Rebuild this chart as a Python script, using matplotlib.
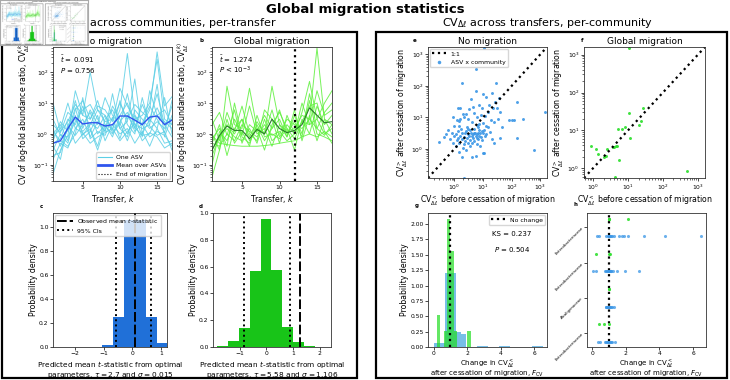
import numpy as np
import matplotlib
matplotlib.use('Agg')
import matplotlib.pyplot as plt
from matplotlib.patches import Rectangle
from matplotlib.lines import Line2D

# ---------------- data ----------------
transfers = list(range(1, 18))

a_lines = [
    [10, 1.2, 2.5, 9, 4, 3, 12, 2, 1.5, 6, 400, 4, 2, 6, 450, 8, 16],
    [0.05, 0.3, 0.9, 25, 4, 100, 6, 2.5, 3, 10, 3, 9, 5, 3, 20, 2, 3],
    [1.0, 2.0, 0.6, 6, 12, 3, 8, 6, 2.5, 30, 8, 3, 4, 10, 260, 3, 2],
    [0.15, 0.5, 0.35, 1.5, 1.1, 0.5, 0.8, 1.1, 1.5, 0.6, 1.2, 2.2, 0.6, 1.1, 0.8, 0.35, 0.5],
    [2.0, 1.1, 5, 3, 1.2, 2.2, 1.5, 4, 1.1, 2.5, 5, 1.2, 2.2, 8, 3, 1.1, 12],
    [0.5, 0.7, 3, 2, 8, 1.5, 0.4, 3, 6, 1.5, 2.5, 60, 1, 3, 1.5, 15, 1],
    [1.5, 0.4, 1.5, 12, 1.5, 6, 2, 15, 4, 2, 20, 1.5, 9, 2.5, 7, 2, 0.8],
    [0.3, 1, 0.5, 4, 0.7, 1.2, 4, 0.6, 2, 1, 1.5, 0.5, 1.2, 0.4, 1.5, 0.5, 0.6],
    [0.8, 1.5, 10, 1.5, 3, 0.8, 2.5, 1.2, 8, 3, 1, 4, 0.8, 25, 4, 6, 2],
    [0.2, 0.25, 1.8, 0.9, 2, 5, 1, 2, 0.8, 4, 10, 2, 1.5, 2, 40, 0.8, 4],
    [3, 0.9, 0.8, 2.5, 6, 9, 3, 1.2, 20, 1.5, 0.8, 6, 3, 1.5, 2.5, 1.5, 8],
    [0.6, 2.5, 1.2, 7, 0.9, 2, 6, 4, 1.3, 12, 2, 1, 15, 1.8, 0.9, 1.2, 0.3],
    [1.2, 0.6, 0.4, 1, 15, 0.7, 1.2, 0.9, 3.5, 0.7, 4, 1.6, 0.9, 1, 4, 2.5, 1.5],
    [0.4, 0.15, 2.2, 0.5, 1, 1.4, 0.3, 1.8, 1, 2.2, 0.6, 2.8, 2, 0.8, 1.2, 0.9, 0.4],
]
a_mean = [0.5, 0.6, 1.5, 3.5, 2.1, 2.3, 2.3, 1.8, 2.0, 3.8, 3.8, 2.8, 2.0, 3.5, 3.8, 2.0, 2.8]

b_lines = [
    [0.04, 0.3, 35, 2, 1.5, 30, 1.5, 1, 35, 2, 1.2, 1.5, 4, 3, 600, 3, 2],
    [0.3, 0.8, 2, 1, 3, 0.8, 2.5, 1, 6, 0.8, 2, 1, 5, 50, 3, 10, 25],
    [0.9, 0.5, 0.45, 0.42, 0.4, 0.4, 0.4, 0.42, 0.45, 0.5, 0.55, 0.6, 0.8, 1, 0.8, 1.2, 0.5],
    [2, 5, 0.9, 6, 0.5, 2, 1.2, 4, 1.5, 3, 0.8, 4, 1, 20, 1.5, 0.9, 2],
    [0.5, 2, 0.2, 1.5, 3, 0.6, 1.5, 0.3, 2, 5, 1.5, 0.7, 2.5, 8, 10, 1.2, 0.8],
    [0.2, 0.8, 1.5, 0.8, 0.6, 1.5, 0.5, 3, 0.6, 1, 3, 2, 1.5, 3, 1.5, 5, 10],
    [1, 0.3, 3, 0.5, 1.2, 0.4, 4, 0.8, 1, 0.7, 1.5, 0.3, 3, 1, 8, 2, 4],
    [0.1, 1.2, 0.6, 3, 0.9, 8, 1, 1.5, 0.4, 2, 0.8, 6, 0.6, 4, 0.6, 3, 1],
    [3, 0.6, 5, 1.2, 8, 1, 0.6, 6, 3, 0.5, 4, 1, 10, 2, 3, 1, 1.5],
    [0.7, 1.5, 0.4, 10, 0.8, 0.5, 2, 0.6, 1.5, 6, 1, 2.5, 0.8, 12, 1, 0.8, 0.6],
    [0.5, 0.4, 1, 0.6, 2, 1.2, 0.8, 2, 0.9, 1.2, 0.6, 1, 2.5, 2, 25, 4, 6],
]
b_mean = [0.3, 0.9, 1.8, 1.3, 1.3, 0.7, 1.4, 1.0, 3.0, 1.5, 1.1, 1.3, 2.0, 7.0, 4.0, 2.3, 2.5]
end_of_migration = 12

a_tbar, a_P = "0.091", "0.756"
b_tbar = "1.274"

c_edges = [-1.06, -0.68, -0.30, 0.085, 0.465, 0.845, 1.225]
c_heights = [0.02, 0.25, 1.06, 1.06, 0.25, 0.035]
c_obs, c_ci = 0.091, [-0.57, 0.66]

d_edges = [-1.84, -1.435, -1.03, -0.625, -0.22, 0.185, 0.59, 0.995, 1.40, 1.805, 2.21]
d_heights = [0.01, 0.045, 0.145, 0.57, 0.955, 0.575, 0.15, 0.035, 0.01, 0.003]
d_obs, d_ci = 1.274, [-0.85, 0.875]

e_x = [11, 5.5, 1.8, 29, 5.6, 20, 10, 13, 35, 3.8, 27, 150, 1.3, 1.6, 7, 4.5, 9, 22, 30, 3.2,
       15, 1500, 40, 5, 2, 8.5, 12, 0.9, 2.2, 6, 3, 250, 120, 100, 80, 1.2, 1.5, 4, 19, 33,
       25, 10, 1, 1.4, 2.8, 6.5, 15, 45, 0.6, 1.7, 2.5, 3.5, 5, 7.5, 9, 11, 18, 0.8, 1.1, 1.9,
       2.3, 3, 3.8, 4.3, 4.8, 5.3, 6, 6.8, 8, 10, 13, 0.45, 1, 1.3, 1.6, 2.1, 2.7, 3.3, 4, 4.6,
       5.5, 6.2, 7, 8.5, 12, 38, 150, 1.2, 1.8, 2.4, 3.6, 5, 6.5, 9.5, 20, 0.9, 1.5, 2.2, 3, 4.2,
       6, 25, 1.1, 2, 3.5, 8, 2.6, 600, 1.5, 10, 10.5, 1.8, 4, 5.5, 2.2, 0.3, 0.5, 0.7, 1.3, 2.9,
       6, 7.5, 13, 1.6, 2.6, 16]
e_y = [1600, 330, 120, 120, 70, 60, 55, 45, 42, 38, 30, 30, 20, 20, 25, 22, 20, 20, 20, 18,
       15, 15, 15, 14, 13, 12, 11, 10, 10, 10, 9, 9, 8, 8.5, 8, 8, 7.5, 7, 8, 9,
       7, 6.5, 5.5, 5.5, 5, 5, 4.8, 5, 4, 4.2, 3.8, 4, 4.2, 3.9, 3.6, 4, 3.5, 3.2, 3, 3.3,
       3.1, 3, 3.2, 2.9, 3.3, 3.1, 3, 3.2, 3.3, 3.2, 3, 2.4, 2.5, 2.2, 2.6, 2.4, 2.3, 2.6, 2.5, 2.2,
       2.5, 2.3, 2.6, 2.4, 2.5, 2.3, 2.3, 1.9, 2, 1.8, 1.9, 1.8, 2, 1.9, 2, 1.6, 1.5, 1.4, 1.5, 1.6,
       1.4, 1.6, 1.2, 1.1, 1.2, 1.2, 0.9, 0.9, 0.8, 0.75, 0.72, 0.55, 0.55, 0.6, 0.12, 1.7, 2.9, 2, 3.6, 4.4,
       5.8, 6, 5.5, 9, 13, 25]
e_lim = [0.12, 1700]

f_x = [11, 27, 11, 11.5, 23, 21, 8.4, 6.8, 5.1, 4.1, 3.7, 4.5, 5.0, 0.9, 1.2, 1.4, 2.1, 2.5, 5.7, 4.2, 500, 2.4]
f_y = [1520, 40, 29, 6.4, 18, 14, 12, 10.8, 10.6, 3.7, 3.6, 3.8, 3.9, 3.9, 3.2, 2.4, 2.0, 3.2, 1.65, 0.58, 0.85, 2.1]
f_lim = [0.55, 1600]

g_blue_edges = list(np.round(np.arange(0, 6.51, 0.325), 3))
g_blue_heights = [0.07, 0.07, 1.2, 1.2, 0.25, 0.21, 0, 0, 0.02, 0.02, 0, 0, 0.01, 0.01, 0, 0, 0, 0, 0.01, 0.01]
g_green_edges = [0.2, 0.4, 0.6, 0.8, 1.0, 1.2, 1.4, 1.6, 1.8, 2.0, 2.2]
g_green_heights = [0.52, 0, 0.26, 2.08, 1.56, 0.26, 0, 0, 0, 0.26]
g_KS, g_P = "0.237", "0.504"

h_families = ["Enterobacteriaceae", "Enterobacteriaceae", "Alcaligenaceae", "Enterobacteriaceae"]
h_green = [[1.0, 1.0, 2.15, 1.02],
           [0.25, 1.0, 1.05],
           [1.0, 1.02],
           [0.4, 0.7, 1.0]]
h_blue = [[0.3, 0.4, 0.85, 0.95, 1.0, 1.0, 1.05, 1.1, 1.2, 1.3, 1.6, 1.75, 1.9, 2.15, 3.1, 4.35, 6.5],
          [0.05, 0.25, 0.75, 0.85, 0.9, 0.95, 1.0, 1.0, 1.05, 1.1, 1.15, 1.25, 1.5, 1.95, 2.8],
          [0.8, 0.85, 0.9, 0.95, 1.0, 1.0, 1.05, 1.1, 1.2, 1.3],
          [0.35, 0.5, 0.75, 0.85, 0.9, 0.95, 1.0, 1.05, 1.1, 1.2, 1.35]]

# ---------------- style ----------------
W, H = 730, 380
plt.rcParams.update({
    'font.family': ['DejaVu Sans'],
    'font.size': 5,
    'axes.linewidth': 0.6,
    'axes.edgecolor': '#333333',
    'xtick.major.size': 2, 'ytick.major.size': 2,
    'xtick.minor.size': 1.2, 'ytick.minor.size': 1.2,
    'xtick.major.width': 0.5, 'ytick.major.width': 0.5,
    'xtick.minor.width': 0.4, 'ytick.minor.width': 0.4,
    'xtick.major.pad': 1.2, 'ytick.major.pad': 1.2,
    'xtick.labelsize': 4.3, 'ytick.labelsize': 4.3,
    'axes.labelsize': 5.6, 'axes.titlesize': 6.5,
    'axes.labelpad': 1.5, 'axes.titlepad': 2.5,
    'legend.fontsize': 4.4,
    'mathtext.fontset': 'dejavusans',
})

CYAN = '#5ccfe6'
BLUE_MEAN = '#2f55ee'
LGREEN = '#5ef03c'
DGREEN = '#2a7a2a'
HBLUE = '#2070d8'
HGREEN = '#18c418'
SBLUE = '#3a96e6'
SGREEN = '#33e033'
XL2 = 5.3  # two-line x labels

fig = plt.figure(figsize=(W / 100, H / 100), dpi=100)


def px_axes(l, t, r, b):
    return fig.add_axes([l / W, 1 - b / H, (r - l) / W, (b - t) / H])


def letter(x, y, s):
    fig.text(x / W, 1 - y / H, s, fontsize=4, fontweight='bold', ha='left', va='center')


def two_line_label(l, r, y1, s1, y2, s2, size):
    fig.text((l + r) / 2 / W, 1 - y1 / H, s1, fontsize=size, ha='center', va='baseline')
    fig.text((l + r) / 2 / W, 1 - y2 / H, s2, fontsize=size, ha='center', va='baseline')


cv_k = r'CV$^{(k)}_{\Delta\ell}$'
cv_lt = r'CV$^{<}_{\Delta\ell}$'
cv_gt = r'CV$^{>}_{\Delta\ell}$'

# ---------------- panel a ----------------
ax = px_axes(53, 47, 172, 181)
for vals in a_lines:
    ax.plot(transfers, vals, color=CYAN, lw=0.7, alpha=0.85)
ax.plot(transfers, a_mean, color=BLUE_MEAN, lw=1.0)
ax.set_yscale('log')
ax.set_ylim(0.03, 650)
ax.set_xlim(1, 17)
ax.set_xticks([5, 10, 15])
ax.set_xlabel(r'Transfer, $k$')
ax.set_ylabel('CV of log-fold abundance ratio, ' + cv_k, labelpad=1)
ax.set_title('No migration')
ax.text(0.06, 0.91, r'$\bar{t}$ = ' + a_tbar, transform=ax.transAxes, fontsize=5, va='center')
ax.text(0.06, 0.825, r'$P$ = ' + a_P, transform=ax.transAxes, fontsize=5, va='center')
handles = [Line2D([], [], color=CYAN, lw=0.8),
           Line2D([], [], color=BLUE_MEAN, lw=2),
           Line2D([], [], color='k', lw=0.8, ls=':')]
ax.legend(handles, ['One ASV', 'Mean over ASVs', 'End of migration'], loc='lower right',
          handlelength=2.2, borderpad=0.4, labelspacing=0.5, framealpha=0.8, borderaxespad=0.3)
letter(40, 40, 'a')

# ---------------- panel b ----------------
ax = px_axes(212, 47, 332, 181)
for vals in b_lines:
    ax.plot(transfers, vals, color=LGREEN, lw=0.7, alpha=0.85)
ax.plot(transfers, b_mean, color=DGREEN, lw=0.8)
ax.axvline(end_of_migration, color='k', ls=':', lw=1.6)
ax.set_yscale('log')
ax.set_ylim(0.03, 650)
ax.set_xlim(1, 17)
ax.set_xticks([5, 10, 15])
ax.set_xlabel(r'Transfer, $k$')
ax.set_ylabel('CV of log-fold abundance ratio, ' + cv_k, labelpad=1)
ax.set_title('Global migration')
ax.text(0.06, 0.91, r'$\bar{t}$ = ' + b_tbar, transform=ax.transAxes, fontsize=5, va='center')
ax.text(0.06, 0.825, r'$P$ < $10^{-3}$', transform=ax.transAxes, fontsize=5, va='center')
letter(199, 40, 'b')

# ---------------- panel c ----------------
ax = px_axes(53, 213, 167, 347)
ax.stairs(c_heights, c_edges, fill=True, color=HBLUE)
ax.axvline(c_obs, color='k', ls=(0, (5, 1.5)), lw=1.4)
for v in c_ci:
    ax.axvline(v, color='k', ls=':', lw=1.4)
ax.set_xlim(-2.75, 1.2)
ax.set_ylim(0, 1.12)
ax.set_yticks(np.arange(0, 1.01, 0.2))
ax.set_xticks([-2, -1, 0, 1])
ax.set_ylabel('Probability density', labelpad=1)
ax.set_xlabel('Predicted mean $t$-statistic from optimal\nparameters, $\\tau = 2.7$ and $\\sigma = 0.015$',
              fontsize=XL2, linespacing=1.05)
handles = [Line2D([], [], color='k', lw=1.4, ls=(0, (5, 1.5))),
           Line2D([], [], color='k', lw=1.4, ls=':')]
ax.legend(handles, ['Observed mean $t$-statistic', '95% CIs'], loc='upper left',
          handlelength=2.5, borderpad=0.4, labelspacing=0.5, framealpha=0.8, borderaxespad=0.3)
letter(40, 206, 'c')

# ---------------- panel d ----------------
ax = px_axes(213, 213, 331, 347)
ax.stairs(d_heights, d_edges, fill=True, color=HGREEN)
ax.axvline(d_obs, color='k', ls=(0, (5, 1.5)), lw=1.4)
for v in d_ci:
    ax.axvline(v, color='k', ls=':', lw=1.4)
ax.set_xlim(-2.0, 2.42)
ax.set_ylim(0, 1.0)
ax.set_yticks(np.arange(0, 1.01, 0.2))
ax.set_xticks([-1, 0, 1, 2])
ax.set_ylabel('Probability density', labelpad=1)
ax.set_xlabel('Predicted mean $t$-statistic from optimal\nparameters, $\\tau = 5.58$ and $\\sigma = 1.106$',
              fontsize=XL2, linespacing=1.05)
letter(199, 206, 'd')

# ---------------- panel e ----------------
ax = px_axes(428, 47, 547, 178)
ax.plot(e_lim, e_lim, color='k', ls=':', lw=1.6, label='1:1')
ax.scatter(e_x, e_y, s=4.5, color=SBLUE, alpha=0.9, lw=0, label='ASV x community')
ax.set_xscale('log')
ax.set_yscale('log')
ax.set_xlim(*e_lim)
ax.set_ylim(*e_lim)
ax.set_title('No migration')
ax.set_xlabel(cv_lt + ' before cessation of migration')
ax.set_ylabel(cv_gt + ' after cessation of migration', labelpad=1)
ax.legend(loc='upper left', handlelength=2.2, borderpad=0.4, labelspacing=0.5,
          framealpha=0.8, borderaxespad=0.3, markerscale=1.2)
letter(413, 40, 'e')

# ---------------- panel f ----------------
ax = px_axes(584, 47, 705, 178)
ax.plot(f_lim, f_lim, color='k', ls=':', lw=1.6)
ax.scatter(f_x, f_y, s=4.5, color=SGREEN, alpha=0.95, lw=0)
ax.set_xscale('log')
ax.set_yscale('log')
ax.set_xlim(*f_lim)
ax.set_ylim(*f_lim)
ax.set_title('Global migration')
ax.set_xlabel(cv_lt + ' before cessation of migration')
ax.set_ylabel(cv_gt + ' after cessation of migration', labelpad=1)
letter(581, 40, 'f')

# ---------------- panel g ----------------
ax = px_axes(428, 213, 547, 347)
ax.stairs(g_blue_heights, g_blue_edges, fill=True, color='#4aa8e0', alpha=0.75)
ax.stairs(g_green_heights, g_green_edges, fill=True, color='#22dd22', alpha=0.7)
ax.axvline(1, color='k', ls=':', lw=1.6, label='No change')
ax.set_xlim(-0.34, 6.75)
ax.set_ylim(0, 2.18)
ax.set_yticks(np.arange(0, 2.01, 0.25))
ax.set_xticks([0, 2, 4, 6])
ax.set_ylabel('Probability density', labelpad=1)
two_line_label(428, 547, 366, 'Change in ' + cv_lt, 375.8,
               'after cessation of migration, $F_{\\rm CV}$', 5.0)
ax.legend(loc='upper right', handlelength=2.2, borderpad=0.4, framealpha=0.8, borderaxespad=0.3)
ax.text(4.66, 1.84, 'KS = ' + g_KS, fontsize=5, ha='center', va='center')
ax.text(4.66, 1.59, r'$P$ = ' + g_P, fontsize=5, ha='center', va='center')
letter(415, 205, 'g')

# ---------------- panel h ----------------
ax = px_axes(587, 213, 706, 347)
ax.axvline(1, color='k', ls=':', lw=1.6, zorder=1)
for i in range(len(h_families)):
    ax.scatter(h_blue[i], [i + 0.25] * len(h_blue[i]), s=5, color=SBLUE, alpha=0.75, lw=0, zorder=2)
    ax.scatter(h_green[i], [i - 0.25] * len(h_green[i]), s=5, color=SGREEN, alpha=0.9, lw=0, zorder=3)
ax.set_ylim(3.4, -0.41)
ax.set_xlim(-0.3, 6.77)
ax.set_xticks([0, 2, 4, 6])
ax.set_yticks(range(len(h_families)))
ax.set_yticklabels(h_families, rotation=45, fontsize=2.8, ha='right', rotation_mode='anchor')
two_line_label(587, 706, 366, 'Change in ' + cv_lt, 375.8,
               'after cessation of migration, $F_{\\rm CV}$', 5.0)
letter(574, 204, 'h')

# ---------------- titles and boxes ----------------
fig.add_artist(Rectangle((2 / W, 1 - 378 / H), 355 / W, 346 / H, transform=fig.transFigure,
                         fill=False, lw=1.6, edgecolor='k'))
fig.add_artist(Rectangle((376 / W, 1 - 378 / H), 351 / W, 346 / H, transform=fig.transFigure,
                         fill=False, lw=1.6, edgecolor='k'))
fig.text(365 / W, 1 - 10 / H, 'Global migration statistics', fontsize=9.5, fontweight='bold',
         ha='center', va='center')
fig.text(277 / W, 1 - 23 / H, cv_k + ' across communities, per-transfer', fontsize=8,
         ha='right', va='center')
fig.text(548 / W, 1 - 23 / H, r'CV$_{\Delta\ell}$ across transfers, per-community', fontsize=8,
         ha='center', va='center')

# ---------------- thumbnail of the figure itself ----------------
fig.canvas.draw()
thumb = np.asarray(fig.canvas.buffer_rgba()).copy()
axt = fig.add_axes([0, 1 - 45 / H, 88 / W, 45 / H])
axt.set_zorder(20)
axt.imshow(thumb, aspect='auto', interpolation='antialiased')
axt.set_xticks([])
axt.set_yticks([])
for s in axt.spines.values():
    s.set_edgecolor('#aaaaaa')
    s.set_linewidth(0.8)

fig.savefig('out.png', dpi=100)
